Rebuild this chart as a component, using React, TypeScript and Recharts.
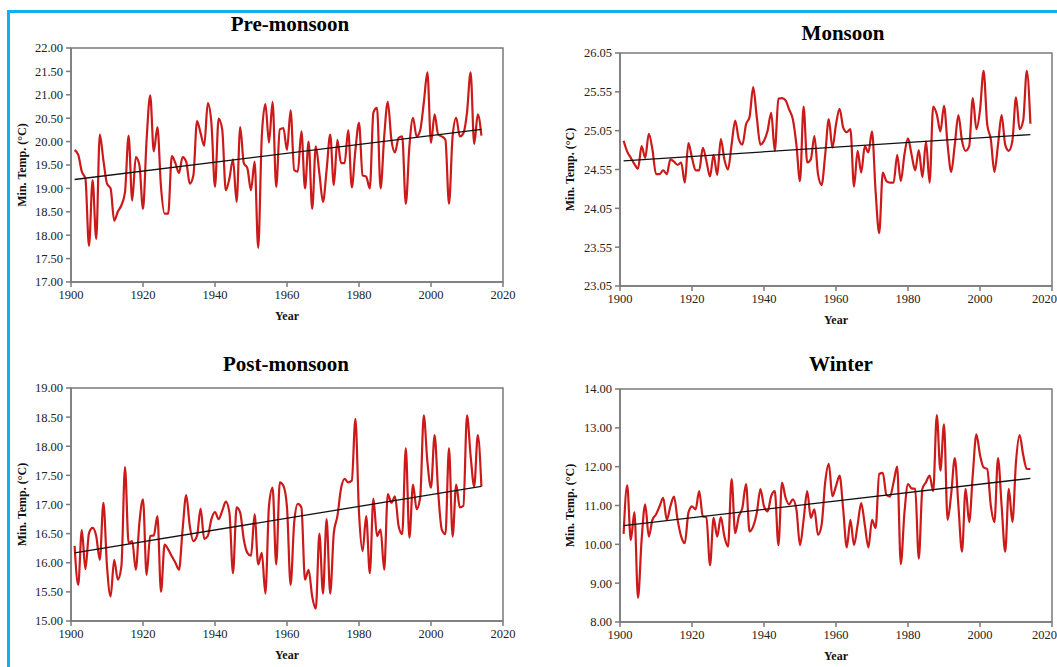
import React from 'react';
import { LineChart, Line, XAxis, YAxis, ReferenceArea } from 'recharts';

// yearly series start in 1901
const FIRST_YEAR = 1901;
const yearTicks = [1900, 1920, 1940, 1960, 1980, 2000, 2020];

const preMonsoon = [
  19.82, 19.72, 19.36, 19.21, 17.77, 19.18, 17.92, 20.15, 19.6, 19.1,
  19.0, 18.31, 18.5, 18.64, 18.92, 20.13, 18.74, 19.67, 19.5, 18.56,
  20.04, 20.99, 19.79, 20.31, 19.03, 18.46, 18.46, 19.69, 19.54, 19.33,
  19.67, 19.57, 19.1, 19.28, 20.44, 20.18, 19.91, 20.82, 20.4, 19.03,
  20.49, 20.26, 18.96, 19.21, 19.62, 18.71, 20.31, 19.54, 19.43, 18.96,
  19.57, 17.73, 20.11, 20.8, 19.98, 20.85, 19.03, 20.26, 20.29, 19.82,
  20.67, 19.39, 19.36, 20.22, 19.0, 20.0, 18.56, 19.9, 19.32, 18.71,
  19.39, 20.15, 19.07, 20.04, 19.54, 19.54, 20.24, 19.02, 19.82, 20.4,
  19.28, 19.25, 19.0, 20.62, 20.72, 19.0, 20.11, 20.85, 20.04, 19.77,
  20.08, 20.11, 18.67, 19.9, 20.51, 20.11, 20.24, 20.83, 21.48, 19.97,
  20.58, 20.15, 20.11, 20.04, 18.67, 20.11, 20.51, 20.11, 20.18, 20.62,
  21.48, 19.95, 20.58, 20.13,
];
const preTrend = [19.19, 20.26];
const preTicks = [17, 17.5, 18, 18.5, 19, 19.5, 20, 20.5, 21, 21.5, 22];

const monsoon = [
  24.92, 24.78, 24.7, 24.62, 24.56, 24.85, 24.7, 25.01, 24.81, 24.49,
  24.49, 24.54, 24.49, 24.68, 24.65, 24.61, 24.64, 24.38, 24.89, 24.7,
  24.54, 24.54, 24.83, 24.66, 24.46, 24.74, 24.48, 24.94, 24.68, 24.55,
  24.87, 25.18, 24.94, 24.87, 25.13, 25.23, 25.61, 25.22, 24.87, 24.92,
  25.05, 25.28, 24.79, 25.46, 25.47, 25.44, 25.32, 25.2, 24.87, 24.4,
  25.36, 24.64, 24.68, 24.98, 24.49, 24.35, 24.74, 25.2, 24.83, 25.13,
  25.33, 25.09, 25.03, 25.07, 24.33, 24.79, 24.51, 24.85, 24.77, 25.04,
  24.27, 23.73, 24.51, 24.4, 24.38, 24.38, 24.74, 24.4, 24.74, 24.95,
  24.74, 24.54, 24.8, 24.45, 24.91, 24.38, 25.36, 25.26, 25.04, 25.37,
  24.87, 24.52, 24.87, 25.25, 24.92, 24.79, 24.85, 25.47, 25.07, 25.31,
  25.82, 25.13, 24.94, 24.52, 24.87, 25.25, 24.87, 24.79, 24.92, 25.48,
  25.07, 25.18, 25.82, 25.14,
];
const monsoonTrend = [24.66, 25.0];
const monsoonTicks = [23.05, 23.55, 24.05, 24.55, 25.05, 25.55, 26.05];

const postMonsoon = [
  16.29, 15.62, 16.56, 15.89, 16.51, 16.6, 16.46, 16.05, 17.03, 15.94,
  15.42, 16.05, 15.71, 15.94, 17.64, 16.34, 16.37, 15.88, 16.69, 17.09,
  15.79, 16.46, 16.47, 16.8, 15.5, 16.31, 16.23, 16.11, 16.0, 15.88,
  16.57, 17.16, 16.63, 16.37, 16.46, 16.93, 16.41, 16.46, 16.75, 16.87,
  16.75, 16.89, 17.05, 16.86, 15.82, 16.95, 16.86, 16.4, 16.17, 16.12,
  16.83, 15.97, 16.17, 15.47, 16.98, 17.29, 15.97, 17.38, 17.32, 16.95,
  15.62, 16.69, 17.01, 16.95, 15.71, 15.88, 15.42, 15.21, 16.5, 15.47,
  16.75, 15.47, 16.51, 16.8, 17.27, 17.44, 17.38, 17.41, 18.47, 16.86,
  16.2, 16.8, 15.82, 17.1, 16.46, 16.57, 15.88, 17.18, 17.03, 17.14,
  16.63, 16.49, 17.97, 16.43, 17.34, 16.92, 17.12, 18.53, 17.73, 17.29,
  18.19, 17.21, 16.57, 16.49, 17.97, 16.45, 17.34, 16.95, 16.98, 18.53,
  17.84, 17.31, 18.19, 17.31,
];
const postTrend = [16.17, 17.31];
const postTicks = [15, 15.5, 16, 16.5, 17, 17.5, 18, 18.5, 19];

const winter = [
  10.27, 11.52, 10.11, 10.83, 8.62, 10.11, 11.03, 10.2, 10.63, 10.77,
  10.98, 11.2, 10.63, 10.98, 11.23, 10.63, 10.2, 10.03, 10.81, 10.98,
  10.9, 11.37, 10.72, 10.7, 9.46, 10.68, 10.2, 10.7, 10.2, 9.94,
  11.68, 10.29, 10.72, 10.94, 11.55, 10.33, 10.46, 10.81, 11.42, 10.98,
  10.85, 11.24, 11.37, 9.98, 11.59, 11.2, 11.03, 11.16, 10.9, 9.98,
  10.63, 11.37, 10.68, 10.9, 10.24, 10.5, 11.6, 12.07, 11.24, 11.5,
  11.77, 10.9, 9.92, 10.63, 9.98, 10.5, 11.06, 10.5, 9.92, 10.63,
  10.42, 11.81, 11.84, 11.27, 11.23, 11.6, 12.0, 9.49, 10.8, 11.55,
  11.44, 11.43, 9.63, 11.43, 11.6, 11.77, 11.37, 13.33, 11.9, 13.09,
  10.63, 11.3, 12.22, 11.0, 9.81, 11.43, 10.57, 11.8, 12.83, 12.3,
  11.98, 11.94, 11.0, 10.57, 12.22, 11.0, 9.81, 11.43, 10.57, 12.13,
  12.81, 12.3, 11.94, 11.94,
];
const winterTrend = [10.48, 11.7];
const winterTicks = [8, 9, 10, 11, 12, 13, 14];

const SERIF = '"Liberation Serif", "Times New Roman", serif';
const AXIS_GREY = '#7a7a7a';

interface PanelProps {
  values: number[];
  trend: number[];
  ticks: number[];
  left: number;
  top: number;
  width: number;
  height: number;
  margin: { top: number; right: number; bottom: number; left: number };
  labelOffset: number;
}

const Panel: React.FC<PanelProps> = ({ values, trend, ticks, left, top, width, height, margin, labelOffset }) => {
  const data = values.map((v, i) => ({ year: FIRST_YEAR + i, temp: v }));
  const trendData = [
    { year: FIRST_YEAR, temp: trend[0] },
    { year: FIRST_YEAR + values.length - 1, temp: trend[1] },
  ];
  const yMin = ticks[0];
  const yMax = ticks[ticks.length - 1];
  const tickStyle = { fontFamily: SERIF, fontSize: 12.5, fill: '#222', style: { fontFamily: SERIF } };

  return (
    <div style={{ position: 'absolute', left, top, fontFamily: SERIF }}>
      <LineChart width={width} height={height} margin={margin} style={{ fontFamily: SERIF }}>
        <XAxis
          dataKey="year"
          type="number"
          domain={[1900, 2020]}
          ticks={yearTicks}
          allowDataOverflow
          height={38}
          tickSize={5}
          tickMargin={3}
          stroke={AXIS_GREY}
          strokeWidth={1.5}
          tick={tickStyle}
          label={{ value: 'Year', position: 'insideBottom', offset: 0, fontFamily: SERIF, fontSize: 12, fontWeight: 'bold', fill: '#111' }}
        />
        <YAxis
          type="number"
          domain={[yMin, yMax]}
          ticks={ticks}
          allowDataOverflow
          width={60}
          tickSize={5}
          tickMargin={3}
          stroke={AXIS_GREY}
          strokeWidth={1.5}
          tick={tickStyle}
          tickFormatter={(v: number) => v.toFixed(2)}
          label={{
            value: 'Min. Temp. (°C)',
            angle: -90,
            position: 'insideLeft',
            offset: labelOffset,
            fontFamily: SERIF,
            fontSize: 12,
            fontWeight: 'bold',
            fill: '#111',
            style: { textAnchor: 'middle' },
          }}
        />
        <ReferenceArea x1={1900} x2={2020} y1={yMin} y2={yMax} fill="none" stroke={AXIS_GREY} strokeWidth={1.5} ifOverflow="visible" />
        <Line data={data} dataKey="temp" type="monotone" stroke="#cc1a1a" strokeWidth={2.2} dot={false} activeDot={false} isAnimationActive={false} />
        <Line data={trendData} dataKey="temp" type="linear" stroke="#111" strokeWidth={1.3} dot={false} activeDot={false} isAnimationActive={false} />
      </LineChart>
    </div>
  );
};

const Title: React.FC<{ text: string; cx: number; cy: number }> = ({ text, cx, cy }) => (
  <div
    style={{
      position: 'absolute',
      left: cx - 150,
      top: cy - 12,
      width: 300,
      lineHeight: '24px',
      textAlign: 'center',
      fontFamily: SERIF,
      fontSize: 21,
      fontWeight: 'bold',
      color: '#000',
    }}
  >
    {text}
  </div>
);

export default function App() {
  return (
    <div style={{ position: 'fixed', left: 0, top: 0, width: 1057, height: 667, overflow: 'hidden', background: '#fff' }}>
      <div style={{ position: 'absolute', left: 7, top: 10, width: 1120, height: 720, border: '3px solid #14aeea' }} />
      <Panel values={preMonsoon} trend={preTrend} ticks={preTicks} left={0} top={0} width={530} height={340}
        margin={{ top: 48, right: 27, bottom: 20, left: 11 }} labelOffset={11} />
      <Panel values={monsoon} trend={monsoonTrend} ticks={monsoonTicks} left={530} top={0} width={527} height={340}
        margin={{ top: 53, right: 5, bottom: 16, left: 30 }} labelOffset={10} />
      <Panel values={postMonsoon} trend={postTrend} ticks={postTicks} left={0} top={340} width={530} height={327}
        margin={{ top: 48, right: 27, bottom: 8, left: 11 }} labelOffset={11} />
      <Panel values={winter} trend={winterTrend} ticks={winterTicks} left={530} top={340} width={527} height={327}
        margin={{ top: 49, right: 5, bottom: 7, left: 30 }} labelOffset={10} />
      <Title text="Pre-monsoon" cx={290} cy={24} />
      <Title text="Monsoon" cx={843} cy={33} />
      <Title text="Post-monsoon" cx={286} cy={364} />
      <Title text="Winter" cx={841} cy={364} />
    </div>
  );
}
